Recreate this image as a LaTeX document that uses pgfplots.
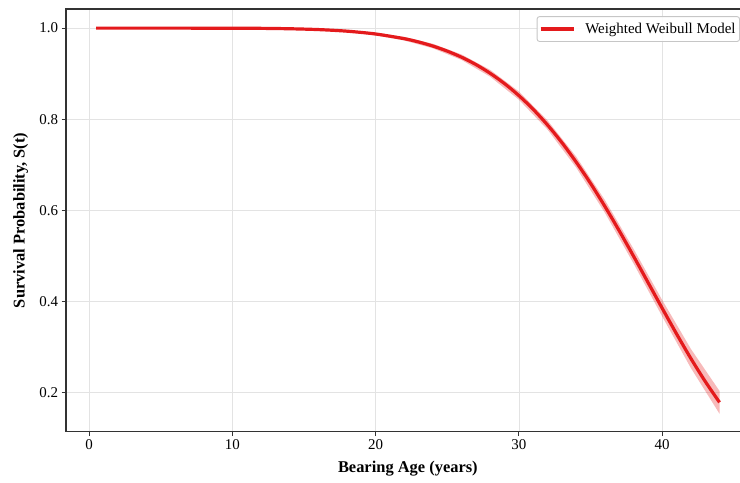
\documentclass[border=0pt]{standalone}
\usepackage{fontspec}
\setmainfont{Liberation Serif}
\usepackage{pgfplots}
\pgfplotsset{compat=1.18}
\definecolor{curvered}{HTML}{E41A1C}
\definecolor{spine}{HTML}{333333}
\definecolor{gridc}{HTML}{E3E3E3}
\begin{document}
\begin{tikzpicture}[x=1bp,y=1bp]
\useasboundingbox (0,0) rectangle (740,483);
\begin{axis}[
  at={(66.1bp,51.3bp)}, anchor=south west,
  width=683.5bp, height=422.7bp, scale only axis,
  xmin=-1.6, xmax=46.1, ymin=0.114, ymax=1.042,
  xtick={0,10,20,30,40}, ytick={0.2,0.4,0.6,0.8,1.0},
  /pgf/number format/assume math mode=true,
  yticklabel style={/pgf/number format/fixed,/pgf/number format/precision=1,/pgf/number format/fixed zerofill},
  tick label style={font=\fontsize{15}{18}\selectfont, text=black},
  tick pos=left, tick align=outside,
  major tick length=4.5bp,
  every tick/.style={spine, line width=1bp},
  axis line style={spine, line width=1.5bp},
  grid=major,
  major grid style={gridc, line width=0.8bp},
  xlabel={Bearing Age (years)},
  ylabel={Survival Probability, S(t)},
  label style={font=\fontsize{16.5}{20}\selectfont\bfseries},
  xlabel style={at={(axis description cs:0.5,-0.088)}, anchor=center},
  ylabel style={at={(axis description cs:-0.0664,0.5)}, anchor=center, rotate=0},
  legend style={at={(axis description cs:0.986,0.983)}, anchor=north east,
    draw=gray!45, rounded corners=2.5bp, line width=0.9bp,
    font=\fontsize{15}{18}\selectfont, inner xsep=2bp, inner ysep=4.5bp,
    fill=white, fill opacity=0.9, text opacity=1,
    nodes={inner sep=2bp}},
  legend image code/.code={\draw[line width=3.2bp] (0bp,0bp) -- (33bp,0bp); \path (41bp,0bp);},
  legend cell align=left,
]
\addplot[draw=none, fill=curvered, fill opacity=0.3, forget plot] coordinates {
(0.5,1.0000) (10,1.0000) (14,0.9996) (16,0.9983) (18,0.9953) (20,0.9901)
(22,0.9808) (24,0.9656) (26,0.9421) (28,0.9082) (30,0.8608) (32,0.7972)
(34,0.7177) (36,0.6226) (38,0.5153) (40,0.4030) (42,0.2958) (44,0.2034)
(44,0.1534) (42,0.2538) (40,0.3670) (38,0.4833) (36,0.5946) (34,0.6937)
(32,0.7772) (30,0.8428) (28,0.8932) (26,0.9301) (24,0.9556) (22,0.9728)
(20,0.9841) (18,0.9913) (16,0.9953) (14,0.9976) (10,0.9996) (0.5,1.0000)
} -- cycle;
\addplot[curvered, line width=3.2bp, smooth] coordinates {
(0.5,1.0000) (5,1.0000) (10,0.9998) (12,0.9995) (14,0.9986) (16,0.9968)
(18,0.9933) (20,0.9871) (22,0.9768) (23,0.9696) (24,0.9606) (25,0.9495)
(26,0.9361) (27,0.9200) (28,0.9007) (29,0.8781) (30,0.8518) (31,0.8216)
(32,0.7872) (33,0.7486) (34,0.7057) (35,0.6591) (36,0.6086) (37,0.5551)
(38,0.4993) (39,0.4422) (40,0.3850) (41,0.3288) (42,0.2748) (43,0.2244)
(44,0.1784)
};
\addlegendentry{Weighted Weibull Model}
\end{axis}
\end{tikzpicture}
\end{document}
